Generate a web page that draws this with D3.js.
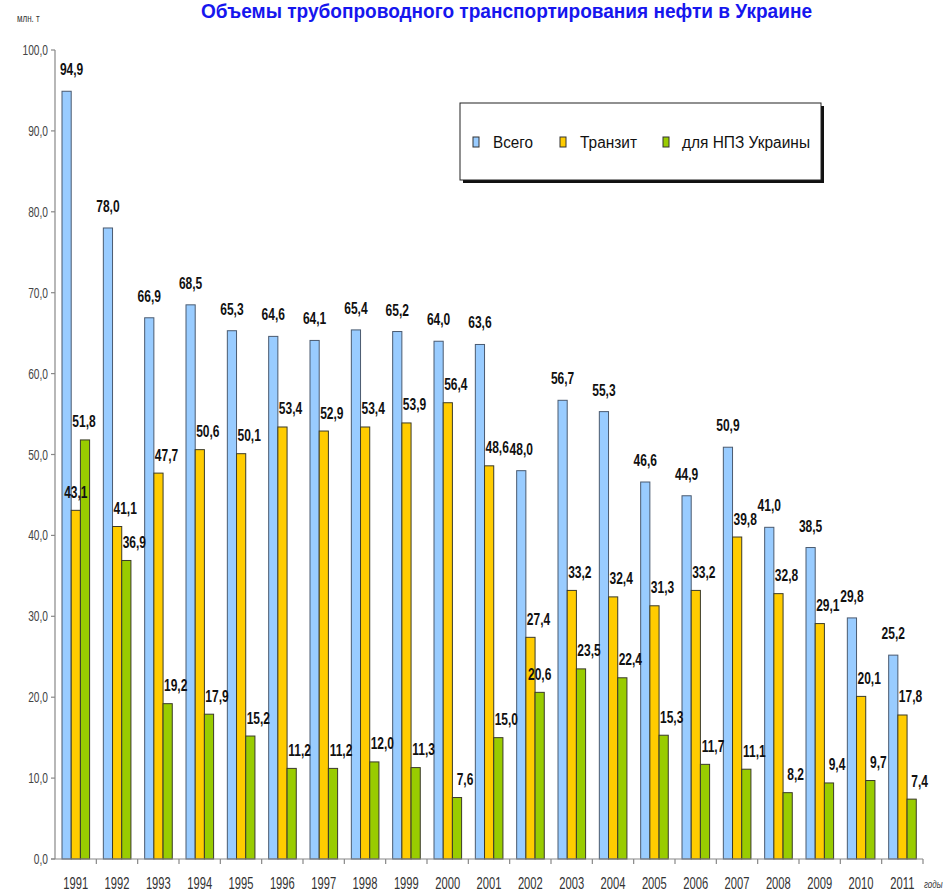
<!DOCTYPE html>
<html><head><meta charset="utf-8">
<script src="https://cdn.jsdelivr.net/npm/d3@7"></script>
<style>html,body{margin:0;padding:0;background:#fff;}svg{display:block;}</style>
</head><body>
<script>
const years = ["1991","1992","1993","1994","1995","1996","1997","1998","1999","2000","2001","2002","2003","2004","2005","2006","2007","2008","2009","2010","2011"];
const total   = [94.9,78.0,66.9,68.5,65.3,64.6,64.1,65.4,65.2,64.0,63.6,48.0,56.7,55.3,46.6,44.9,50.9,41.0,38.5,29.8,25.2];
const transit = [43.1,41.1,47.7,50.6,50.1,53.4,52.9,53.4,53.9,56.4,48.6,27.4,33.2,32.4,31.3,33.2,39.8,32.8,29.1,20.1,17.8];
const refinery= [51.8,36.9,19.2,17.9,15.2,11.2,11.2,12.0,11.3,7.6,15.0,20.6,23.5,22.4,15.3,11.7,11.1,8.2,9.4,9.7,7.4];
const seriesNames = ["Всего","Транзит","для НПЗ Украины"];
const yTicks = [0,10,20,30,40,50,60,70,80,90,100];
const titleText = "Объемы трубопроводного транспортирования нефти в Украине";
const unitText = "млн. т";
const xUnitText = "годы";

const colors = ["#99CCFF","#FFCC00","#99CC00"];
const W = 943, H = 892;
const mLeft = 55, mRight = 923, mTop = 50, mBottom = 859;
const fontFam = "'Liberation Sans', Arial, sans-serif";

const svg = d3.select("body").append("svg").attr("width", W).attr("height", H);

const x = d3.scaleBand().domain(years).range([mLeft, mRight]).paddingInner(0).paddingOuter(0);
const y = d3.scaleLinear().domain([0, 100]).range([mBottom, mTop]);
const inner = d3.scaleBand().domain([0,1,2]).range([7, 7 + 27.6]).padding(0);

function sText(g, px, py, str, size, sx, anchor, weight, fill, style) {
  return g.append("text")
    .attr("transform", `translate(${px},${py}) scale(${sx},1)`)
    .attr("text-anchor", anchor)
    .attr("font-family", fontFam)
    .attr("font-size", size)
    .attr("font-weight", weight || "normal")
    .attr("font-style", style || "normal")
    .attr("fill", fill || "#000")
    .text(str);
}

// Title
svg.append("text")
  .attr("x", 201).attr("y", 18)
  .attr("textLength", 611).attr("lengthAdjust", "spacingAndGlyphs")
  .attr("font-family", fontFam).attr("font-size", 21).attr("font-weight", "bold")
  .attr("fill", "#1616EE").text(titleText);

sText(svg, 17, 22, unitText, 10, 0.8, "start", "normal", "#333");

// Y axis
const yAxis = svg.append("g");
yAxis.append("line").attr("x1", mLeft).attr("x2", mLeft).attr("y1", mTop).attr("y2", mBottom)
  .attr("stroke", "#888").attr("stroke-width", 1.2);
yTicks.forEach(t => {
  yAxis.append("line").attr("x1", mLeft - 4).attr("x2", mLeft).attr("y1", y(t)).attr("y2", y(t))
    .attr("stroke", "#888").attr("stroke-width", 1.2);
  sText(yAxis, 48, y(t) + 5, d3.format(".1f")(t).replace(".", ","), 15, 0.68, "end", "normal", "#444");
});

// Bars
const series = [total, transit, refinery];
const bars = svg.append("g");
series.forEach((vals, si) => {
  bars.selectAll(null).data(vals).enter().append("rect")
    .attr("x", (d, i) => x(years[i]) + inner(si))
    .attr("width", inner.bandwidth())
    .attr("y", d => y(d))
    .attr("height", d => y(0) - y(d))
    .attr("fill", colors[si])
    .attr("stroke", si === 0 ? "#4a5a70" : "#3a3a2a")
    .attr("stroke-width", 1);
});

// X axis
const xAxis = svg.append("g");
xAxis.append("line").attr("x1", mLeft - 4).attr("x2", mRight).attr("y1", mBottom).attr("y2", mBottom)
  .attr("stroke", "#888").attr("stroke-width", 1.2);
years.forEach((yr, i) => {
  const bx = x(yr) + x.bandwidth();
  xAxis.append("line").attr("x1", bx).attr("x2", bx).attr("y1", mBottom).attr("y2", mBottom + 5)
    .attr("stroke", "#888").attr("stroke-width", 1.2);
  sText(xAxis, x(yr) + x.bandwidth() / 2, 889, yr, 16, 0.7, "middle", "normal", "#333");
});
sText(svg, 924, 888, xUnitText, 10, 0.8, "start", "normal", "#333", "italic");

// Value labels
const nudge = { "0-1991": 5, "1-1991": -8, "2-1991": -9, "2-2002": -8 };
const labels = svg.append("g");
series.forEach((vals, si) => {
  vals.forEach((v, i) => {
    const bx = x(years[i]) + inner(si);
    const bw = inner.bandwidth();
    let px = si === 0 ? bx + bw / 2 : bx + bw / 2 + 8;
    px += nudge[si + "-" + years[i]] || 0;
    const py = y(v) - (si === 0 ? 16 : 12.5);
    sText(labels, px, py, d3.format(".1f")(v).replace(".", ","), 16, 0.75, "middle", "bold", "#111");
  });
});

// Legend
const lg = svg.append("g");
lg.append("rect").attr("x", 463).attr("y", 106).attr("width", 361).attr("height", 77).attr("fill", "#111");
lg.append("rect").attr("x", 460).attr("y", 103).attr("width", 361).attr("height", 77)
  .attr("fill", "#fff").attr("stroke", "#222").attr("stroke-width", 1);
const sqX = [473, 560, 663];
const txX = [493, 580, 682];
const txW = [40, 57, 128];
seriesNames.forEach((n, i) => {
  lg.append("rect").attr("x", sqX[i]).attr("y", 137).attr("width", 6).attr("height", 10)
    .attr("fill", colors[i]).attr("stroke", "#333").attr("stroke-width", 1);
  lg.append("text").attr("x", txX[i]).attr("y", 148)
    .attr("textLength", txW[i]).attr("lengthAdjust", "spacingAndGlyphs")
    .attr("font-family", fontFam).attr("font-size", 16).attr("fill", "#111").text(n);
});
</script>
</body></html>
